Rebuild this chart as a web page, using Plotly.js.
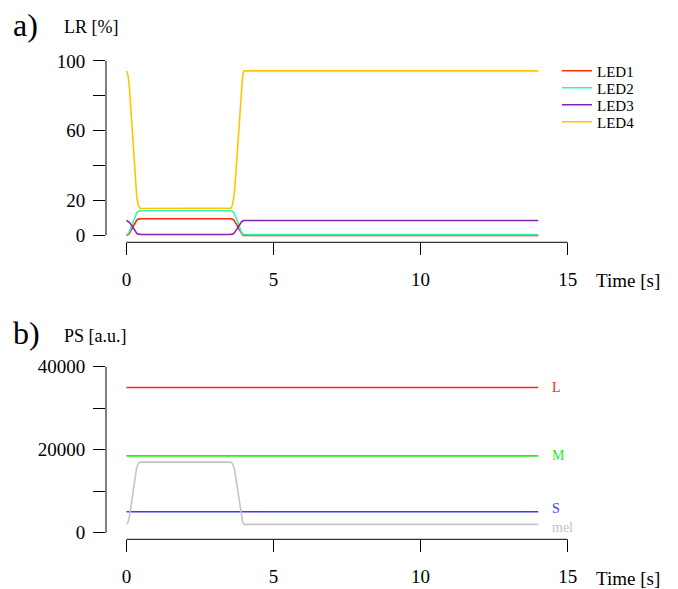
<!DOCTYPE html>
<html>
<head>
<meta charset="utf-8">
<script src="https://cdn.plot.ly/plotly-3.0.1.min.js"></script>
<style>html,body{margin:0;padding:0;background:#fff;}#chart{width:678px;height:589px;}</style>
</head>
<body>
<div id="chart"></div>
<script>
// Time [s]
const time = [0,0.05,0.1,0.15,0.2,0.25,0.3,0.35,0.4,0.45,0.5,
              3.5,3.55,3.6,3.65,3.7,3.75,3.8,3.85,3.9,3.95,4.0,14];
// Panel a: LR [%]
const led1 = [0,0.3,1.2,2.7,4.3,6.0,7.6,8.7,9.3,9.5,9.5,
              9.5,9.5,9.3,8.7,7.6,6.0,4.3,2.7,1.2,0.3,0,0];
const led2 = [0.4,0.8,2.1,4.2,6.7,9.1,11.4,13.0,13.8,14.1,14.1,
              14.1,14.1,13.8,13.0,11.4,9.1,6.7,4.2,2.1,0.8,0.4,0.4];
const led3 = [8.5,8.2,7.5,6.3,4.8,3.4,2.1,1.1,0.7,0.5,0.5,
              0.5,0.5,0.7,1.1,2.1,3.4,4.8,6.3,7.5,8.2,8.5,8.5];
const led4 = [94.3,91.8,84.3,72.3,58.2,44.2,31.2,21.7,17.2,15.6,15.4,
              15.4,15.6,17.2,21.7,31.2,44.2,58.2,72.3,84.3,91.8,94.3,94.3];
const ledNames = ["LED1","LED2","LED3","LED4"];
// Panel b: PS [a.u.]
const psL = [35000,35000,35000,35000,35000,35000,35000,35000,35000,35000,35000,
             35000,35000,35000,35000,35000,35000,35000,35000,35000,35000,35000,35000];
const psM = [18500,18500,18500,18500,18500,18500,18500,18500,18500,18500,18500,
             18500,18500,18500,18500,18500,18500,18500,18500,18500,18500,18500,18500];
const psS = [5050,5050,5050,5050,5050,5050,5050,5050,5050,5050,5050,
             5050,5050,5050,5050,5050,5050,5050,5050,5050,5050,5050,5050];
const psMel = [2000,2480,3910,6200,8880,11560,14040,15850,16700,17000,17050,
               17050,17000,16700,15850,14040,11560,8880,6200,3910,2480,2000,2000];
const psNames = ["L","M","S","mel"];
// Ticks
const xTicks = [0,5,10,15];
const yTicksA = [0,20,40,60,80,100];
const yTextA = ["0","20","","60","","100"];
const yTicksB = [0,10000,20000,30000,40000];
const yTextB = ["0","","20000","","40000"];

const FONT = "'Liberation Serif', 'Times New Roman', serif";
const ledColors = ["#ff2a00","#33f5b5","#8424b0","#ffc600"];
const psColors = ["#ff2020","#22ee22","#3a3aff","#c4c4c4"];

const W = 678, H = 589;
const px = v => v / W, py = v => 1 - v / H;

const ledData = [led1, led2, led3, led4];
const psData = [psL, psM, psS, psMel];
const legendIds = ["legend","legend2","legend3","legend4"];

const traces = [];
ledData.forEach((d, i) => traces.push({
  x: time, y: d, type: "scatter", mode: "lines", name: ledNames[i], legend: legendIds[i],
  line: {color: ledColors[i], width: 1.6}, xaxis: "x", yaxis: "y"
}));
psData.forEach((d, i) => traces.push({
  x: time, y: d, type: "scatter", mode: "lines", name: psNames[i], showlegend: false,
  line: {color: psColors[i], width: 1.6}, xaxis: "x2", yaxis: "y2"
}));

const xr = [-0.697, 15.624];
const axCommon = {
  showgrid: false, zeroline: false, showline: false,
  ticks: "outside", ticklen: 12, tickwidth: 1, tickcolor: "#000",
  tickfont: {family: FONT, size: 19, color: "#000"}
};

const annotations = [
  {text: "a)", x: px(11), y: py(25), xref: "paper", yref: "paper", xanchor: "left", yanchor: "middle", showarrow: false, font: {family: FONT, size: 32, color: "#000"}},
  {text: "LR [%]", x: px(62), y: py(27), xref: "paper", yref: "paper", xanchor: "left", yanchor: "middle", showarrow: false, font: {family: FONT, size: 18, color: "#000"}},
  {text: "Time [s]", x: px(594), y: py(281), xref: "paper", yref: "paper", xanchor: "left", yanchor: "middle", showarrow: false, font: {family: FONT, size: 19, color: "#000"}},
  {text: "b)", x: px(11), y: py(333), xref: "paper", yref: "paper", xanchor: "left", yanchor: "middle", showarrow: false, font: {family: FONT, size: 32, color: "#000"}},
  {text: "PS [a.u.]", x: px(62), y: py(336), xref: "paper", yref: "paper", xanchor: "left", yanchor: "middle", showarrow: false, font: {family: FONT, size: 18, color: "#000"}},
  {text: "Time [s]", x: px(594), y: py(578), xref: "paper", yref: "paper", xanchor: "left", yanchor: "middle", showarrow: false, font: {family: FONT, size: 19, color: "#000"}}
];
const labelShift = [0, 0, 3, -3];
psData.forEach((d, i) => annotations.push({
  text: psNames[i], x: time[time.length - 1], y: d[d.length - 1], xref: "x2", yref: "y2",
  xanchor: "left", yanchor: "middle", xshift: 12, yshift: labelShift[i], showarrow: false,
  font: {family: FONT, size: 14, color: psColors[i]}
}));

const shapes = [
  {type: "line", xref: "x", yref: "y domain", x0: xTicks[0], x1: xTicks[xTicks.length-1], y0: 0, y1: 0, line: {color: "#000", width: 1}},
  {type: "line", xref: "x domain", yref: "y", x0: 0, x1: 0, y0: yTicksA[0], y1: yTicksA[yTicksA.length-1], line: {color: "#000", width: 1}},
  {type: "line", xref: "x2", yref: "y2 domain", x0: xTicks[0], x1: xTicks[xTicks.length-1], y0: 0, y1: 0, line: {color: "#000", width: 1}},
  {type: "line", xref: "x2 domain", yref: "y2", x0: 0, x1: 0, y0: yTicksB[0], y1: yTicksB[yTicksB.length-1], line: {color: "#000", width: 1}}
];

const layout = {
  width: W, height: H,
  margin: {l: 0, r: 0, t: 0, b: 0},
  paper_bgcolor: "#fff", plot_bgcolor: "rgba(0,0,0,0)",
  font: {family: FONT, color: "#000"},
  xaxis: Object.assign({}, axCommon, {domain: [px(106), px(586)], range: xr, anchor: "y", tickvals: xTicks, ticktext: xTicks.map(String), ticklabelstandoff: 8}),
  yaxis: Object.assign({}, axCommon, {domain: [py(242.3), py(54)], range: [-4, 104], anchor: "x", tickvals: yTicksA, ticktext: yTextA, ticklabelstandoff: 4}),
  xaxis2: Object.assign({}, axCommon, {domain: [px(106), px(586)], range: xr, anchor: "y2", tickvals: xTicks, ticktext: xTicks.map(String), ticklabelstandoff: 8}),
  yaxis2: Object.assign({}, axCommon, {domain: [py(539.3), py(360.1)], range: [-1600, 41600], anchor: "x2", tickvals: yTicksB, ticktext: yTextB, ticklabelstandoff: 4}),
  showlegend: true,
  annotations: annotations,
  shapes: shapes
};
legendIds.forEach((id, i) => {
  layout[id] = {x: px(557), y: py(71 + 17 * i), xanchor: "left", yanchor: "middle",
    bgcolor: "rgba(0,0,0,0)", font: {family: FONT, size: 15, color: "#000"}, itemwidth: 30};
});

Plotly.newPlot("chart", traces, layout, {displayModeBar: false, staticPlot: true});
</script>
</body>
</html>
